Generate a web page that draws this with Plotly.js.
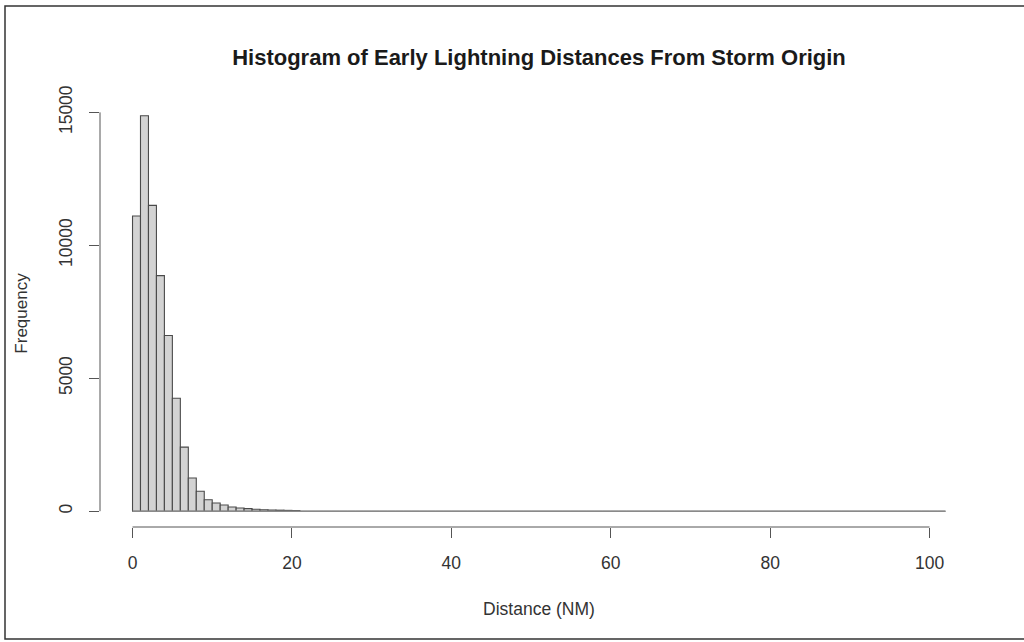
<!DOCTYPE html>
<html>
<head>
<meta charset="utf-8">
<script src="https://cdn.plot.ly/plotly-3.0.1.min.js"></script>
<style>
  html, body { margin: 0; padding: 0; background: #fff; }
  #chart { width: 1024px; height: 642px; }
</style>
</head>
<body>
<div id="chart"></div>
<script>
// Histogram bins (width 1 NM) and counts
const binStart = Array.from({length: 102}, (_, i) => i);
const counts = [
  11100, 14870, 11500, 8860, 6610, 4250, 2410, 1250, 750, 430,
  310, 230, 160, 120, 95, 70, 55, 45, 38, 30,
  25
].concat(new Array(81).fill(0));
const binWidth = 1;
const xTicks = [0, 20, 40, 60, 80, 100];
const yTicks = [0, 5000, 10000, 15000];
const titleText = 'Histogram of Early Lightning Distances From Storm Origin';
const xTitle = 'Distance (NM)';
const yTitle = 'Frequency';

const binCenters = binStart.map(b => b + binWidth / 2);
const lastEdge = binStart[binStart.length - 1] + binWidth;

const font = 'Liberation Sans, Arial, Helvetica, sans-serif';
const txt = '#333';

const traces = [
  {
    type: 'scatter', mode: 'lines',
    x: [binStart[0], lastEdge], y: [0, 0],
    line: {color: '#8a8a8a', width: 1.5},
    hoverinfo: 'skip', showlegend: false
  },
  {
    type: 'bar',
    x: binCenters, y: counts, width: binWidth,
    marker: {color: '#d3d3d3', line: {color: '#4a4a4a', width: 1.1}},
    showlegend: false
  }
];

const layout = {
  width: 1024, height: 642,
  paper_bgcolor: '#fff', plot_bgcolor: '#fff',
  margin: {l: 100, r: 46, t: 100, b: 115},
  bargap: 0,
  showlegend: false,
  font: {family: font, color: txt, size: 17.5},
  title: {
    text: '<b>' + titleText + '</b>',
    font: {family: font, size: 22, color: '#1a1a1a'},
    x: 0.5, xanchor: 'center', xref: 'paper',
    y: 1 - 57 / 642, yref: 'container', yanchor: 'middle'
  },
  xaxis: {
    range: [-4.08, 106.08],
    showgrid: false, zeroline: false, showline: false,
    tickmode: 'array', tickvals: xTicks, ticktext: xTicks.map(String),
    ticks: 'outside', ticklen: 10, tickwidth: 1, tickcolor: '#555',
    tickfont: {family: font, size: 17.5, color: txt},
    ticklabelstandoff: 10,
    title: {text: xTitle, font: {family: font, size: 17.5, color: txt}, standoff: 30}
  },
  yaxis: {
    range: [-595, 15465],
    showgrid: false, zeroline: false, showline: false,
    tickmode: 'array', tickvals: yTicks, ticktext: yTicks.map(String),
    ticks: 'outside', ticklen: 10, tickwidth: 1, tickcolor: '#555',
    tickangle: -90,
    tickfont: {family: font, size: 17.5, color: txt},
    ticklabelstandoff: 10,
    title: {text: yTitle, font: {family: font, size: 17, color: txt}, standoff: 24}
  },
  shapes: [
    {type: 'line', xref: 'x', yref: 'paper', x0: xTicks[0], x1: xTicks[xTicks.length - 1], y0: 0, y1: 0,
     line: {color: '#555', width: 1}},
    {type: 'line', xref: 'paper', yref: 'y', x0: 0, x1: 0, y0: yTicks[0], y1: yTicks[yTicks.length - 1],
     line: {color: '#555', width: 1}},
    {type: 'rect', xref: 'paper', yref: 'paper',
     x0: (5 - 100) / 878, x1: (1040 - 100) / 878,
     y0: (527 - 639) / 427, y1: (527 - 6) / 427,
     line: {color: '#333', width: 1.5}, fillcolor: 'rgba(0,0,0,0)'}
  ]
};

Plotly.newPlot('chart', traces, layout, {staticPlot: true, displayModeBar: false});
</script>
</body>
</html>
